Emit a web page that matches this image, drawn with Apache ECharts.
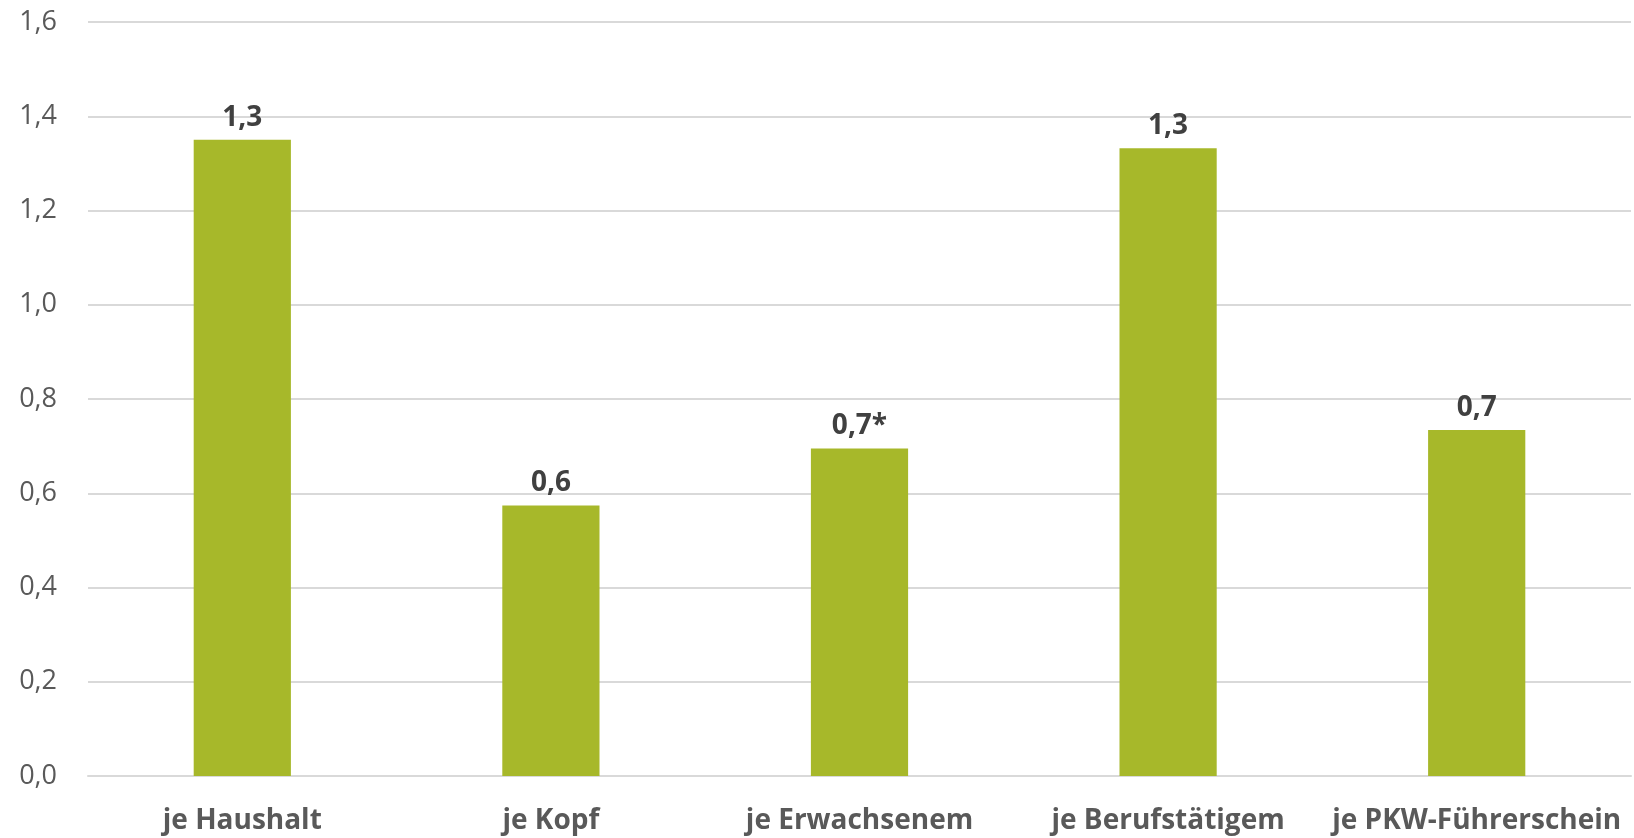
<!DOCTYPE html>
<html>
<head>
<meta charset="utf-8">
<script src="https://cdn.jsdelivr.net/npm/echarts@6/dist/echarts.min.js"></script>
<style>
  html, body { margin: 0; padding: 0; background: #fff; }
  #chart { width: 1634px; height: 838px; }
</style>
</head>
<body>
<div id="chart"></div>
<script>
// Kategorien und Werte
const categories = ['je Haushalt', 'je Kopf', 'je Erwachsenem', 'je Berufstätigem', 'je PKW-Führerschein'];
const values = [1.35, 0.574, 0.695, 1.332, 0.734];
const valueLabels = ['1,3', '0,6', '0,7*', '1,3', '0,7'];

const chart = echarts.init(document.getElementById('chart'));

const option = {
  animation: false,
  grid: { left: 88, right: 3, top: 22, bottom: 62, containLabel: false },
  xAxis: {
    type: 'category',
    data: categories,
    axisLine: { lineStyle: { color: '#d9d9d9', width: 2 } },
    axisTick: { show: false },
    axisLabel: {
      color: '#595959',
      fontFamily: 'Open Sans',
      fontWeight: 'bold',
      fontSize: 28,
      margin: 31,
      interval: 0
    }
  },
  yAxis: {
    type: 'value',
    min: 0,
    max: 1.6,
    interval: 0.2,
    axisLine: { show: false },
    axisTick: { show: false },
    splitLine: { lineStyle: { color: '#d9d9d9', width: 2 } },
    axisLabel: {
      color: '#595959',
      fontFamily: 'Open Sans',
      fontSize: 27,
      margin: 31,
      formatter: v => v.toFixed(1).replace('.', ',')
    }
  },
  series: [{
    type: 'bar',
    data: values,
    barWidth: '31.5%',
    itemStyle: { color: '#a7b82a' },
    label: {
      show: true,
      position: 'top',
      distance: 8,
      color: '#404040',
      fontFamily: 'Open Sans',
      fontWeight: 'bold',
      fontSize: 28,
      formatter: p => valueLabels[p.dataIndex]
    }
  }]
};

chart.setOption(option);
</script>
</body>
</html>
